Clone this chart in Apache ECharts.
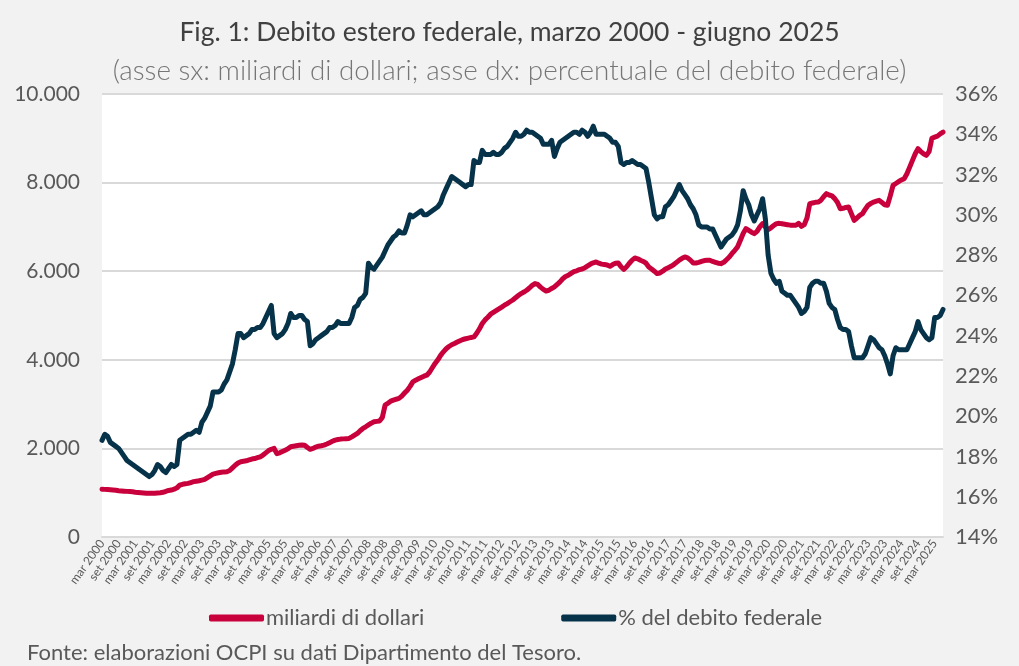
<!DOCTYPE html>
<html>
<head>
<meta charset="utf-8">
<script src="https://cdn.jsdelivr.net/npm/echarts@6/dist/echarts.min.js"></script>
<style>
html,body{margin:0;padding:0;background:#f2f2f2;}
#chart{width:1019px;height:666px;}
</style>
</head>
<body>
<div id="chart"></div>
<script>
// Mesi (etichette categorie): da marzo 2000 a giugno 2025, dati mensili
const mesi = ['gen','feb','mar','apr','mag','giu','lug','ago','set','ott','nov','dic'];
const annoInizio = 2000, meseInizio = 2;   // marzo 2000
const annoFine = 2025, meseFine = 5;       // giugno 2025

// Debito estero federale, miliardi di dollari (asse sx)
const miliardi = [
  1080,1075,1070,1065,1060,1055,1045,1040,1035,1030,                 // 2000 (mar-dic)
  1025,1020,1010,1005,1000,995,990,985,985,990,995,1000,             // 2001
  1010,1030,1050,1060,1080,1110,1170,1190,1200,1210,1230,1250,       // 2002
  1260,1270,1285,1300,1340,1380,1420,1436,1450,1460,1470,1473,       // 2003
  1500,1560,1620,1670,1700,1710,1720,1740,1760,1770,1790,1810,       // 2004
  1850,1900,1950,1980,2000,1880,1900,1930,1960,1990,2037,2050,       // 2005
  2060,2070,2075,2070,2020,1980,2000,2030,2050,2060,2075,2100,       // 2006
  2130,2160,2187,2200,2210,2215,2220,2225,2260,2300,2338,2400,       // 2007
  2450,2488,2530,2570,2600,2610,2620,2700,2977,3020,3067,3090,       // 2008
  3110,3128,3180,3250,3315,3400,3502,3540,3570,3600,3630,3653,       // 2009
  3720,3820,3917,4000,4100,4180,4250,4300,4340,4368,4400,4430,       // 2010
  4458,4475,4490,4505,4517,4600,4700,4819,4900,4960,5029,5070,       // 2011
  5110,5150,5190,5232,5270,5310,5350,5400,5450,5495,5530,5570,       // 2012
  5620,5680,5721,5700,5640,5590,5554,5570,5610,5645,5700,5760,       // 2013
  5830,5880,5908,5950,5990,6010,6036,6050,6080,6120,6160,6190,       // 2014
  6208,6180,6160,6150,6140,6111,6150,6180,6186,6100,6043,6100,       // 2015
  6180,6250,6298,6280,6246,6220,6180,6096,6050,6000,5946,5960,       // 2016
  6000,6050,6080,6111,6150,6200,6250,6290,6321,6300,6250,6186,       // 2017
  6186,6200,6220,6240,6246,6246,6220,6200,6180,6171,6200,6260,       // 2018
  6320,6400,6472,6550,6700,6850,6961,6920,6880,6848,6900,7000,       // 2019
  7074,7000,6939,6980,7030,7074,7080,7070,7060,7050,7040,7040,       // 2020
  7036,7080,7013,7050,7200,7525,7540,7555,7561,7600,7680,7750,       // 2021
  7720,7700,7638,7550,7412,7420,7440,7448,7300,7148,7200,7261,       // 2022
  7300,7400,7487,7530,7560,7580,7599,7550,7500,7487,7700,7938,       // 2023
  7980,8020,8060,8089,8200,8350,8501,8650,8765,8700,8650,8614,       // 2024
  8700,9000,9027,9050,9100,9140                                      // 2025 (gen-giu)
];

// Debito estero in % del debito federale (asse dx)
const percentuale = [
  18.8,19.1,19.0,18.7,18.6,18.5,18.4,18.2,18.0,17.8,                 // 2000 (mar-dic)
  17.7,17.6,17.5,17.4,17.3,17.2,17.1,17.0,17.1,17.3,17.6,17.5,       // 2001
  17.3,17.2,17.4,17.6,17.5,17.6,18.8,18.9,19.0,19.1,19.1,19.2,       // 2002
  19.3,19.2,19.7,19.9,20.2,20.5,21.2,21.2,21.2,21.3,21.6,21.8,       // 2003
  22.2,22.6,23.3,24.1,24.1,23.9,24.0,24.1,24.3,24.3,24.4,24.4,       // 2004
  24.6,24.9,25.2,25.5,24.1,23.9,24.0,24.1,24.3,24.6,25.1,24.9,       // 2005
  24.9,25.0,25.0,24.8,24.7,23.5,23.6,23.8,23.9,24.0,24.1,24.2,       // 2006
  24.4,24.4,24.5,24.7,24.6,24.6,24.6,24.6,24.9,25.4,25.5,25.8,       // 2007
  25.9,26.1,27.6,27.4,27.3,27.5,27.7,27.9,28.2,28.5,28.7,28.9,       // 2008
  29.0,29.2,29.1,29.1,29.5,30.0,29.9,30.0,30.1,30.2,30.0,30.0,       // 2009
  30.1,30.2,30.3,30.4,30.6,31.0,31.3,31.6,31.9,31.8,31.7,31.6,       // 2010
  31.5,31.4,31.5,31.5,32.7,32.6,32.6,33.2,33.0,33.0,33.0,33.1,       // 2011
  33.0,33.0,33.1,33.3,33.4,33.6,33.8,34.1,33.9,33.9,34.0,34.2,       // 2012
  34.1,34.1,34.0,33.9,33.8,33.5,33.5,33.5,33.7,32.9,33.3,33.6,       // 2013
  33.7,33.8,33.9,34.0,34.1,34.1,34.0,34.2,34.1,33.9,34.1,34.4,       // 2014
  34.0,34.0,34.0,34.0,33.9,33.8,33.6,33.6,33.4,32.6,32.5,32.6,       // 2015
  32.6,32.7,32.6,32.5,32.5,32.4,32.3,31.6,30.8,30.0,29.8,29.9,       // 2016
  29.9,30.4,30.5,30.7,30.9,31.2,31.5,31.2,31.0,30.8,30.5,30.3,       // 2017
  30.0,29.5,29.4,29.4,29.4,29.3,29.3,29.0,28.7,28.4,28.6,28.8,       // 2018
  28.9,29.0,29.2,29.5,30.2,31.2,30.8,30.5,30.0,29.7,30.0,30.3,       // 2019
  30.8,29.8,28.0,27.1,26.8,26.6,26.7,26.2,26.1,26.0,26.0,25.8,       // 2020
  25.6,25.4,25.1,25.2,25.4,26.4,26.6,26.7,26.7,26.6,26.6,26.2,       // 2021
  25.6,25.4,25.3,24.8,24.4,24.3,24.3,24.2,23.5,22.9,22.9,22.9,       // 2022
  22.9,23.1,23.5,23.9,23.8,23.6,23.4,23.3,23.0,22.6,22.1,23.0,       // 2023
  23.4,23.3,23.3,23.3,23.3,23.6,23.9,24.2,24.7,24.3,24.1,23.9,       // 2024
  23.8,23.9,24.9,24.9,25.0,25.3                                      // 2025 (gen-giu)
];

const nomiSerie = ['miliardi di dollari', '% del debito federale'];
const titolo = 'Fig. 1: Debito estero federale, marzo 2000 - giugno 2025';
const sottotitolo = '(asse sx: miliardi di dollari; asse dx: percentuale del debito federale)';
const fonte = 'Fonte: elaborazioni OCPI su dati Dipartimento del Tesoro.';

const categorie = [];
for (let a = annoInizio; a <= annoFine; a++) {
  const m0 = a === annoInizio ? meseInizio : 0;
  const m1 = a === annoFine ? meseFine : 11;
  for (let m = m0; m <= m1; m++) categorie.push(mesi[m] + ' ' + a);
}

const FONT = 'Lato, "Open Sans", sans-serif';
const migliaia = v => String(v).replace(/\B(?=(\d{3})+(?!\d))/g, '.');

const chart = echarts.init(document.getElementById('chart'), null, {renderer: 'canvas'});
chart.setOption({
  backgroundColor: '#f2f2f2',
  animation: false,
  textStyle: {fontFamily: FONT},
  title: [
    {text: titolo, left: 'center', top: 14,
     textStyle: {fontFamily: FONT, fontSize: 26.5, fontWeight: 'normal', color: '#404040'}},
    {text: sottotitolo, left: 'center', top: 52,
     textStyle: {fontFamily: FONT, fontSize: 27.8, fontWeight: 300, color: '#767676'}},
    {text: fonte, left: 22, top: 637,
     textStyle: {fontFamily: FONT, fontSize: 22, fontWeight: 'normal', color: '#595959'}}
  ],
  legend: {
    top: 602, left: 204, itemGap: 137, itemWidth: 55, itemHeight: 7,
    icon: 'roundRect',
    textStyle: {fontFamily: FONT, fontSize: 22, color: '#595959', padding: [0,0,0,-3]},
    data: nomiSerie
  },
  grid: {left: 102, right: 76, top: 94, bottom: 129, show: true,
         backgroundColor: '#ffffff', borderWidth: 0, containLabel: false},
  xAxis: {
    type: 'category', data: categorie, boundaryGap: false,
    axisLine: {lineStyle: {color: '#d9d9d9', width: 2}},
    axisTick: {show: false},
    axisLabel: {interval: 5, rotate: 55, fontSize: 12, color: '#595959', margin: 4, hideOverlap: false},
    splitLine: {show: false}
  },
  yAxis: [
    {type: 'value', min: 0, max: 10000, interval: 2000,
     axisLine: {show: false}, axisTick: {show: false},
     axisLabel: {formatter: migliaia, fontSize: 21, color: '#595959', margin: 22},
     splitLine: {lineStyle: {color: '#d9d9d9', width: 2}}},
    {type: 'value', min: 14, max: 36, interval: 2, position: 'right',
     axisLine: {show: false}, axisTick: {show: false},
     axisLabel: {formatter: '{value}%', fontSize: 22, color: '#595959', margin: 12},
     splitLine: {show: false}}
  ],
  series: [
    {name: nomiSerie[0], type: 'line', data: miliardi, yAxisIndex: 0,
     showSymbol: false, symbol: 'none',
     lineStyle: {color: '#c8003c', width: 5, join: 'round', cap: 'round'},
     itemStyle: {color: '#c8003c'}},
    {name: nomiSerie[1], type: 'line', data: percentuale, yAxisIndex: 1,
     showSymbol: false, symbol: 'none',
     lineStyle: {color: '#06334a', width: 5, join: 'round', cap: 'round'},
     itemStyle: {color: '#06334a'}}
  ]
});
</script>
</body>
</html>
